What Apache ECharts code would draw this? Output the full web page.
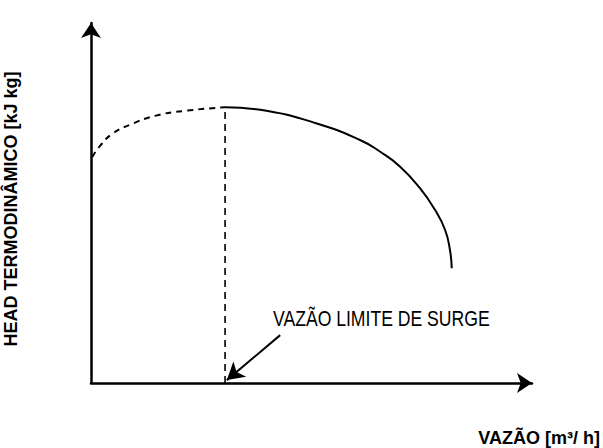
<!DOCTYPE html>
<html>
<head>
<meta charset="utf-8">
<script src="https://cdn.jsdelivr.net/npm/echarts@6/dist/echarts.min.js"></script>
<style>
  html, body { margin: 0; padding: 0; background: #fff; }
  #chart { width: 603px; height: 448px; }
</style>
</head>
<body>
<div id="chart"></div>
<script>
// curva do compressor (escala arbitraria 0-100)
var stableCurve = [
  [30.4, 76.6], [39.8, 75.6], [51.2, 72.1], [61.0, 67.5], [65.5, 64.3],
  [70.1, 60.1], [74.6, 54.1], [78.0, 48.1], [80.3, 42.5], [81.4, 36.9],
  [81.8, 31.9]
]
var surgeCurve = [
  [0.3, 62.8], [2.0, 65.8], [4.8, 69.2], [8.8, 71.7], [14.5, 74.2],
  [21.3, 75.6], [30.4, 76.6]
]
var surgeLine = [[30.4, 0], [30.4, 76.6]]
var pointerFrom = [42.9, 13.3]
var pointerTo = [30.8, 0.8]

var xName = 'VAZÃO [m³/ h]'
var yName = 'HEAD TERMODINÂMICO [kJ kg]'
var surgeLabel = 'VAZÃO LIMITE DE SURGE'

var chart = echarts.init(document.getElementById('chart'), null, { renderer: 'svg' })

var options = {
  backgroundColor: '#fff',
  animation: false,
  grid: { left: 91, right: 71, top: 23, bottom: 65, outerBoundsMode: 'none' },
  xAxis: {
    type: 'value',
    min: 0,
    max: 100,
    name: xName,
    nameLocation: 'end',
    nameGap: 68,
    nameTextStyle: {
      fontFamily: 'Liberation Sans',
      fontWeight: 'bold',
      fontSize: 18,
      color: '#000',
      align: 'right',
      verticalAlign: 'top',
      padding: [46, 0, 0, 0]
    },
    axisLine: {
      show: true,
      symbol: ['none', 'arrow'],
      symbolSize: [15, 15],
      lineStyle: { color: '#000', width: 2.5 }
    },
    axisTick: { show: false },
    axisLabel: { show: false },
    splitLine: { show: false }
  },
  yAxis: {
    type: 'value',
    min: 0,
    max: 100,
    name: yName,
    nameLocation: 'middle',
    nameRotate: 90,
    nameGap: 71,
    nameTextStyle: {
      fontFamily: 'Liberation Sans',
      fontWeight: 'bold',
      fontSize: 18,
      color: '#000',
      padding: [0, 12, 0, 0]
    },
    axisLine: {
      show: true,
      symbol: ['none', 'arrow'],
      symbolSize: [15, 15],
      lineStyle: { color: '#000', width: 2.5 }
    },
    axisTick: { show: false },
    axisLabel: { show: false },
    splitLine: { show: false }
  },
  series: [
    {
      name: 'estavel',
      type: 'line',
      smooth: true,
      symbol: 'none',
      data: stableCurve,
      lineStyle: { color: '#000', width: 2 }
    },
    {
      name: 'surge',
      type: 'line',
      smooth: true,
      symbol: 'none',
      data: surgeCurve,
      lineStyle: { color: '#000', width: 2, type: [6, 5] }
    },
    {
      name: 'limite',
      type: 'line',
      symbol: 'none',
      data: surgeLine,
      lineStyle: { color: '#000', width: 1.6, type: [7, 5] },
      markLine: {
        silent: true,
        symbol: ['none', 'arrow'],
        symbolSize: [15, 17],
        label: { show: false },
        lineStyle: { color: '#000', width: 2, type: 'solid' },
        data: [[{ coord: pointerFrom }, { coord: pointerTo }]]
      }
    }
  ],
  graphic: [
    {
      type: 'text',
      x: 273,
      y: 307,
      scaleX: 0.8,
      style: {
        text: surgeLabel,
        fontFamily: 'Liberation Sans',
        fontSize: 22,
        fill: '#000'
      }
    }
  ]
}

chart.setOption(options, true)
</script>
</body>
</html>
